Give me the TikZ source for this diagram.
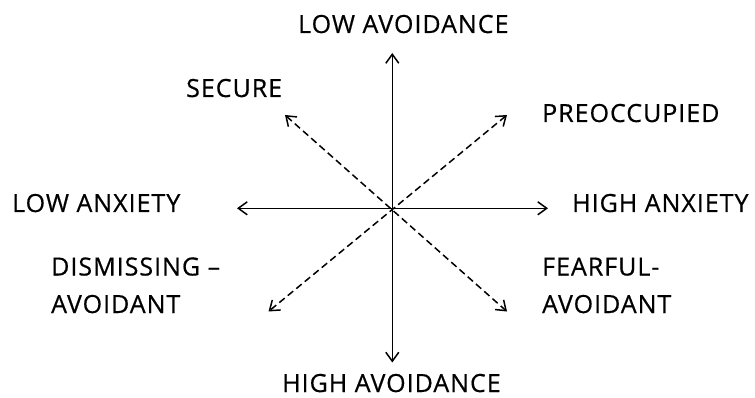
\documentclass[tikz,border=0pt]{standalone}
\usepackage{fontspec}
\setmainfont{Open Sans}[LetterSpace=4,FakeBold=0.5]
\usetikzlibrary{arrows.meta}
\begin{document}
\begin{tikzpicture}[x=1pt,y=-1pt,
  lbl/.style={inner sep=0pt, anchor=base west, font=\fontsize{25}{37.5}\selectfont, align=left},
  axis/.style={line width=1.5pt, {Straight Barb[length=9pt,width=13pt,line width=1.5pt]}-{Straight Barb[length=9pt,width=13pt,line width=1.5pt]}},
  diag/.style={axis, dash pattern=on 7pt off 4pt}]
\useasboundingbox (0,0) rectangle (755,398);
\coordinate (top) at (392.3,53);
\coordinate (bot) at (392.3,362.5);
\coordinate (lft) at (237,208.3);
\coordinate (rgt) at (548,208.3);
\coordinate (ul) at (285,115);
\coordinate (ur) at (507,115);
\coordinate (ll) at (268.5,311.5);
\coordinate (lr) at (507,311.5);
\draw[axis] (top) -- (bot);
\draw[axis] (lft) -- (rgt);
\draw[diag] (ul) -- (lr);
\draw[diag] (ur) -- (ll);
\node[lbl] (lowav) at (298,33) {LOW AVOIDANCE};
\node[lbl] (sec) at (186,97) {SECURE};
\node[lbl] (pre) at (542,122) {PREOCCUPIED};
\node[lbl] (lowan) at (12,212) {LOW ANXIETY};
\node[lbl] (highan) at (572,212) {HIGH ANXIETY};
\node[lbl] (dis) at (51,313) {DISMISSING –\\AVOIDANT};
\node[lbl] (fear) at (542,313) {FEARFUL-\\AVOIDANT};
\node[lbl] (highav) at (282,392) {HIGH AVOIDANCE};
\end{tikzpicture}
\end{document}
